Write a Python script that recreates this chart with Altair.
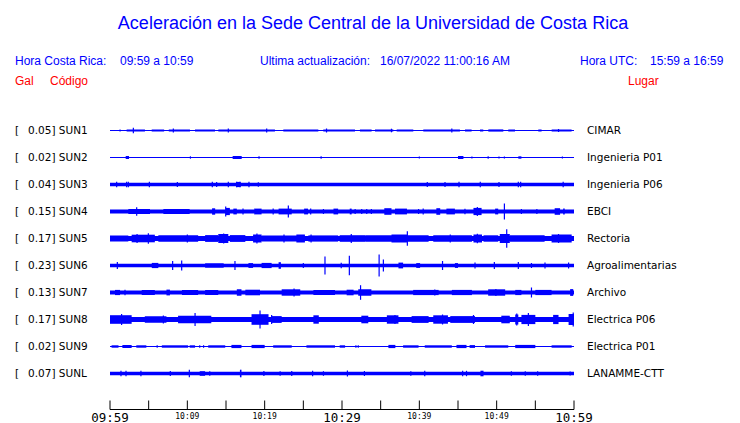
import altair as alt
import pandas as pd

# ---------------- data ----------------
codes = ["SUN1", "SUN2", "SUN3", "SUN4", "SUN5", "SUN6", "SUN7", "SUN8", "SUN9", "SUNL"]
gal = ["0.05", "0.02", "0.04", "0.15", "0.17", "0.23", "0.13", "0.17", "0.02", "0.07"]
places = ["CIMAR", "Ingenieria P01", "Ingenieria P06", "EBCI", "Rectoria",
          "Agroalimentarias", "Archivo", "Electrica P06", "Electrica P01", "LANAMME-CTT"]

# background noise half-amplitude of each trace (relative units)
base_amp = [0.5, 0.5, 1.7, 1.9, 2.5, 1.8, 1.9, 2.6, 0.5, 1.7]

# bursts: (start minute, end minute, half amplitude)
bursts = {
    "SUN1": [(2.15, 4.52, 1.0), (5.39, 7.0, 1.0), (7.6, 10.34, 1.0), (10.99, 13.58, 1.0),
             (14.01, 21.33, 1.1), (22.41, 26.94, 1.0), (27.58, 31.68, 1.0), (32.32, 33.83, 1.0),
             (34.26, 36.64, 1.0), (37.07, 39.22, 1.0), (40.51, 45.25, 1.1), (45.9, 46.76, 1.0),
             (47.84, 48.27, 1.0), (48.92, 50.86, 1.1), (51.5, 52.37, 1.0), (55.38, 55.81, 1.0),
             (57.11, 59.69, 1.0)],
    "SUN2": [(2.03, 2.46, 1.5), (15.86, 17.03, 1.5), (45.0, 45.7, 1.5), (52.8, 53.2, 1.2)],
    "SUN3": [(16.3, 16.9, 2.6)],
    "SUN4": [(2.37, 5.17, 2.5), (6.9, 10.3, 2.5), (13.2, 13.6, 3.2), (15.0, 15.5, 3.6),
             (15.95, 16.4, 2.9), (18.66, 19.6, 2.9), (21.8, 23.5, 2.9), (25.1, 25.6, 2.9),
             (28.9, 29.5, 2.9), (31.0, 31.25, 2.9), (35.47, 36.4, 3.3), (36.85, 38.4, 2.9),
             (42.2, 42.7, 3.3), (43.5, 44.6, 2.9), (47.0, 48.05, 3.6), (49.8, 50.2, 2.9),
             (57.5, 58.2, 3.3), (58.6, 58.8, 2.9)],
    "SUN5": [(0.0, 2.37, 3.0), (2.8, 5.8, 3.8), (6.25, 11.4, 3.2), (12.3, 14.0, 3.4),
             (14.0, 15.3, 4.4), (15.5, 17.5, 3.4), (18.5, 19.6, 4.0), (19.6, 25.2, 3.1),
             (24.1, 25.2, 4.0), (25.65, 29.5, 3.1), (29.7, 33.0, 3.3), (33.0, 41.2, 3.3),
             (36.4, 38.4, 4.0), (41.8, 46.8, 3.2), (47.0, 48.1, 4.0), (48.3, 50.2, 3.2),
             (50.4, 51.7, 4.5), (51.7, 56.2, 3.2), (57.1, 59.7, 4.0)],
    "SUN6": [(5.4, 6.25, 2.6), (19.6, 20.9, 2.6), (21.8, 22.1, 3.3), (37.3, 37.9, 2.9),
             (39.6, 40.1, 2.4), (44.6, 45.0, 2.4), (12.3, 14.7, 2.2), (17.9, 18.5, 2.4)],
    "SUN7": [(0.65, 1.3, 2.6), (4.1, 5.8, 2.5), (7.3, 7.75, 2.9), (9.3, 11.4, 2.5),
             (12.3, 14.0, 2.5), (16.4, 17.0, 3.2), (17.5, 19.4, 2.8), (22.2, 24.6, 3.2),
             (26.3, 29.1, 2.5), (30.6, 31.5, 2.8), (32.1, 33.8, 3.2), (39.2, 42.5, 2.6),
             (44.2, 46.8, 2.6), (48.9, 51.1, 3.2), (52.4, 53.2, 2.6), (55.0, 57.1, 2.6),
             (59.5, 59.9, 3.4)],
    "SUN8": [(0.0, 2.8, 4.3), (4.5, 7.3, 3.2), (8.8, 13.1, 3.7), (18.3, 20.5, 5.3),
             (20.9, 22.2, 3.4), (26.3, 27.0, 4.2), (32.5, 33.4, 3.8), (35.8, 37.3, 4.2),
             (39.0, 41.2, 3.4), (41.8, 43.7, 4.2), (44.0, 47.2, 3.4), (50.6, 51.7, 3.8),
             (52.4, 52.8, 5.0), (53.2, 55.0, 4.6), (57.3, 58.0, 4.6), (59.3, 60.0, 5.5)],
    "SUN9": [(0.2, 1.1, 1.2), (1.6, 2.8, 1.6), (3.4, 4.7, 1.2), (6.7, 10.1, 1.2),
             (10.3, 11.0, 1.2), (12.7, 14.9, 1.2), (15.7, 17.0, 1.6), (18.3, 20.0, 1.6),
             (21.1, 23.5, 1.2), (25.4, 29.1, 1.2), (29.7, 30.4, 1.2), (36.0, 36.9, 1.6),
             (37.9, 39.9, 1.2), (40.7, 44.2, 1.2), (44.8, 46.1, 1.6), (46.5, 47.2, 1.4),
             (48.5, 51.5, 1.2), (52.4, 55.0, 1.6), (57.1, 59.7, 1.2)],
    "SUNL": [(11.6, 12.3, 2.3), (16.8, 17.0, 3.8), (47.9, 48.3, 2.8)],
}

# spikes: (minute, half amplitude)
spikes = {
    "SUN1": [(1.3, 1.0), (3.02, 2.7), (8.19, 2.0), (15.3, 2.0), (20.26, 2.0), (28.0, 2.0),
             (36.4, 1.8), (44.2, 2.0), (58.0, 1.5)],
    "SUN2": [(10.4, 1.2), (19.27, 1.2), (27.3, 1.2), (40.0, 1.0), (46.8, 1.0), (48.9, 1.2),
             (50.3, 1.0), (51.0, 1.0), (58.5, 1.0)],
    "SUN3": [(0.86, 2.7), (2.15, 2.7), (2.37, 2.7), (5.09, 2.7), (8.71, 2.5), (13.23, 2.7),
             (13.79, 2.5), (15.3, 2.7), (16.38, 2.7), (16.81, 2.7), (17.97, 2.7), (19.18, 2.3),
             (41.03, 2.5), (43.32, 2.5), (45.13, 2.7), (47.88, 2.7), (50.3, 2.5), (52.8, 2.7),
             (53.1, 2.7), (58.6, 2.7)],
    "SUN4": [(3.45, 4.3), (14.96, 5.0), (23.06, 6.0), (47.5, 4.5), (51.0, 8.0), (17.2, 3.0),
             (21.1, 3.0), (25.95, 3.0), (27.6, 2.5), (31.7, 2.6), (32.55, 2.6), (33.2, 2.6),
             (33.8, 2.6), (39.9, 2.5), (40.5, 3.0), (45.9, 2.7), (53.2, 2.5), (55.2, 2.5)],
    "SUN5": [(4.96, 5.3), (19.0, 5.0), (38.45, 7.3), (51.3, 9.3), (14.7, 5.0), (26.0, 4.0),
             (31.2, 4.5), (47.5, 4.8), (3.5, 4.5), (10.0, 4.0), (22.5, 4.0), (44.0, 4.0),
             (58.0, 4.5)],
    "SUN6": [(0.95, 3.5), (8.1, 4.5), (9.27, 5.0), (16.16, 4.5), (27.8, 9.0), (30.95, 9.8),
             (34.8, 11.0), (35.35, 6.0), (43.0, 4.5), (49.7, 3.5), (52.8, 3.5), (56.25, 3.0),
             (59.3, 3.0), (25.0, 2.5), (29.9, 2.7), (47.2, 3.0), (54.5, 2.5)],
    "SUN7": [(32.4, 7.3), (54.5, 5.0), (1.94, 2.7), (23.8, 4.0), (42.0, 3.0), (49.9, 3.5)],
    "SUN8": [(11.0, 6.5), (19.4, 9.0), (52.6, 6.0), (54.1, 6.5), (59.9, 7.0), (6.9, 4.0),
             (36.85, 4.5), (1.5, 5.5), (20.9, 4.5), (43.0, 5.0), (47.0, 4.5)],
    "SUN9": [(6.1, 1.3), (11.6, 1.3), (12.1, 1.3), (31.8, 1.3), (32.1, 1.3)],
    "SUNL": [(1.42, 2.7), (2.07, 2.7), (4.0, 2.7), (7.8, 2.5), (10.26, 3.8), (12.9, 2.3),
             (19.9, 2.5), (22.0, 2.3), (23.5, 2.5), (26.2, 2.7), (27.6, 2.3), (30.7, 3.0),
             (32.9, 2.5), (38.9, 2.3), (40.7, 2.7), (45.6, 2.7), (46.1, 2.7), (51.9, 2.3),
             (53.7, 2.3), (55.3, 2.3), (59.5, 2.0)],
}

tick_minutes = list(range(0, 61, 5))
label_minutes_big = [0, 30, 60]
label_text_big = ["09:59", "10:29", "10:59"]
label_minutes_small = [10, 20, 40, 50]
label_text_small = ["10:09", "10:19", "10:39", "10:49"]

# ---------------- tables ----------------
ROW_PX = 27.0  # amplitude units per row spacing
rects = []
for i, c in enumerate(codes):
    rects.append({"t0": 0.0, "t1": 60.0, "lo": i - base_amp[i] / ROW_PX, "hi": i + base_amp[i] / ROW_PX})
    for t0, t1, a in bursts[c]:
        rects.append({"t0": t0, "t1": t1, "lo": i - a / ROW_PX, "hi": i + a / ROW_PX})
rect_df = pd.DataFrame(rects)

sp = []
for i, c in enumerate(codes):
    for t, a in spikes[c]:
        sp.append({"t": t, "lo": i - a / ROW_PX, "hi": i + a / ROW_PX})
spike_df = pd.DataFrame(sp)

rows_df = pd.DataFrame({
    "row": list(range(len(codes))),
    "left": [f"{g}] {c}" for g, c in zip(gal, codes)],
    "place": places,
})
ticks_df = pd.DataFrame({"m": tick_minutes})
big_df = pd.DataFrame({"m": label_minutes_big, "lab": label_text_big})
small_df = pd.DataFrame({"m": label_minutes_small, "lab": label_text_small})
one = pd.DataFrame({"a": [0]})

BLUE = "#0000ff"
xs = alt.Scale(domain=[0, 60], nice=False, zero=False)
ys = alt.Scale(domain=[-0.51852, 10.33333], reverse=True, nice=False, zero=False)

rect_layer = alt.Chart(rect_df).mark_rect(color=BLUE).encode(
    x=alt.X("t0:Q", scale=xs, axis=None), x2="t1:Q",
    y=alt.Y("lo:Q", scale=ys, axis=None), y2="hi:Q")

spike_layer = alt.Chart(spike_df).mark_rule(color=BLUE, strokeWidth=1.2).encode(
    x=alt.X("t:Q", scale=xs, axis=None),
    y=alt.Y("lo:Q", scale=ys, axis=None), y2="hi:Q")

FONT_LBL = "DejaVu Sans"
bracket = alt.Chart(rows_df).mark_text(align="left", baseline="middle", font=FONT_LBL,
                                       fontSize=10.5, color="black", text="[").encode(
    x=alt.value(-95), y=alt.Y("row:Q", scale=ys, axis=None))
left_lbl = alt.Chart(rows_df).mark_text(align="left", baseline="middle", font=FONT_LBL,
                                        fontSize=10.5, color="black").encode(
    x=alt.value(-82), y=alt.Y("row:Q", scale=ys, axis=None), text="left:N")
right_lbl = alt.Chart(rows_df).mark_text(align="left", baseline="middle", font=FONT_LBL,
                                         fontSize=10.5, color="black").encode(
    x=alt.value(477), y=alt.Y("row:Q", scale=ys, axis=None), text="place:N")

domain_line = alt.Chart(one).mark_rule(color="black", strokeWidth=1).encode(
    x=alt.value(0), x2=alt.value(464), y=alt.value(293))
tick_layer = alt.Chart(ticks_df).mark_rule(color="black", strokeWidth=1).encode(
    x=alt.X("m:Q", scale=xs, axis=None), y=alt.value(284), y2=alt.value(293))
big_lbl = alt.Chart(big_df).mark_text(align="center", baseline="alphabetic",
                                      font="DejaVu Sans Mono", fontSize=12.5, color="black").encode(
    x=alt.X("m:Q", scale=xs, axis=None), y=alt.value(305), text="lab:N")
small_lbl = alt.Chart(small_df).mark_text(align="center", baseline="alphabetic",
                                          font="DejaVu Sans Mono", fontSize=8, color="black").encode(
    x=alt.X("m:Q", scale=xs, axis=None), y=alt.value(302), text="lab:N")


def htext(txt, x, y, color=BLUE, size=12, align="left"):
    return alt.Chart(one).mark_text(text=txt, align=align, baseline="middle",
                                    font="Liberation Sans", fontSize=size, color=color).encode(
        x=alt.value(x), y=alt.value(y))


headers = [
    htext("Aceleración en la Sede Central de la Universidad de Costa Rica", 263, -93, size=18, align="center"),
    htext("Hora Costa Rica:", -95, -55.5),
    htext("09:59 a 10:59", 10, -55.5),
    htext("Ultima actualización:", 150, -55.5),
    htext("16/07/2022 11:00:16 AM", 270, -55.5),
    htext("Hora UTC:", 470, -55.5),
    htext("15:59 a 16:59", 540, -55.5),
    htext("Gal", -95, -35.5, color="#ff0000"),
    htext("Código", -60, -35.5, color="#ff0000"),
    htext("Lugar", 518, -35.5, color="#ff0000"),
]

chart = alt.layer(rect_layer, spike_layer, bracket, left_lbl, right_lbl, domain_line,
                  tick_layer, big_lbl, small_lbl, *headers).properties(
    width=464, height=293,
    padding={"left": 102, "top": 108.5, "right": 150, "bottom": 14},
    autosize=alt.AutoSizeParams(type="none"),
    background="white",
).configure_view(stroke=None)

chart.save("out.html", embed_options={"renderer": "svg", "actions": False})
